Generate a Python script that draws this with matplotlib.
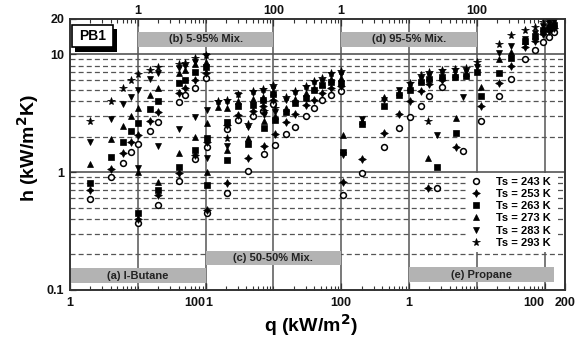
import numpy as np
import matplotlib
matplotlib.use("Agg")
import matplotlib.pyplot as plt
from matplotlib.patches import Rectangle
from matplotlib.ticker import FixedLocator, FixedFormatter, LogLocator, NullFormatter, NullLocator

plt.rcParams['font.family'] = ['Liberation Sans', 'DejaVu Sans']
plt.rcParams['font.weight'] = 'bold'

# saturation temperatures (K) and their symbols
ts = [243, 253, 263, 273, 283, 293]
markers = ['o', (4, 1, 0), 's', '^', 'v', '*']

# heat flux q (kW/m2); h (kW/m2K) one row per Ts, nan = no point
q_a = [2, 4, 6, 8, 10, 15, 20, 40, 50, 70, 100]
h_a = [
    [0.59, 0.90, 1.19, 1.47, 1.73, 2.24, 2.67, 3.94, 4.5, 5.15, 6.3],
    [0.70, 1.07, 1.44, 1.79, 2.06, 2.71, 3.24, 4.64, 5.2, 6.0, 6.9],
    [0.81, 1.33, 1.81, 2.23, 2.59, 3.40, 4.02, 5.65, 6.0, 7.1, 7.8],
    [1.17, 1.89, 2.45, 2.98, 3.51, 4.49, 5.18, 6.86, 7.3, 8.2, 8.6],
    [1.81, 2.80, 3.75, 4.35, 4.95, 6.1, 6.86, 7.6, 7.9, 8.6, 9.6],
    [2.72, 4.0, 5.18, 6.02, 6.73, 7.3, 7.8, 8.2, 8.4, 9.2, 9.8],
]

q_b = [1, 2, 4, 7, 10.5, 15, 21, 30, 50, 70, 100]
h_b = [
    [0.37, 0.53, 0.84, 1.28, 1.64, np.nan, 2.31, 2.76, 2.98, 3.29, 3.77],
    [0.40, 0.64, 0.98, 1.39, 1.80, np.nan, 2.50, 3.04, 3.29, 3.62, 4.08],
    [0.45, 0.71, 1.11, 1.54, 1.95, np.nan, 2.67, 3.65, 3.70, 4.08, 4.58],
    [1.0, 0.83, 1.46, 1.99, 2.59, 3.55, 3.49, 4.0, 4.16, 4.32, 4.76],
    [1.08, 1.66, 2.30, 2.91, 3.35, 3.84, 3.92, 4.49, 4.67, 4.86, 5.12],
    [np.nan, np.nan, np.nan, np.nan, np.nan, 4.0, 4.08, 4.58, 4.86, 5.05, 5.46],
]

q_c = [1.05, 2.1, 4.2, 7.3, 10.5, 15.5, 20.5, 30, 40, 52, 70, 100]
h_c = [
    [0.45, 0.66, 1.02, 1.41, 1.69, 2.09, 2.42, 3.0, 3.51, 4.08, 4.49, 4.89],
    [0.48, 0.81, 1.31, 1.66, 2.10, 2.67, 3.08, 3.70, 4.08, 4.64, 5.15, 5.35],
    [0.78, 1.26, 1.72, 2.35, 2.76, 3.24, 3.82, 4.24, 4.95, 5.46, 5.82, 5.71],
    [1.0, 1.54, 1.93, 2.71, 2.98, 3.47, 4.16, 4.67, 5.15, 5.57, 6.14, 6.26],
    [1.31, 1.66, 2.42, 3.04, 3.22, 4.08, 4.64, 5.15, 5.65, 5.94, 6.64, 6.73],
    [np.nan, 1.93, 2.55, 3.29, 3.49, 4.32, 4.86, 5.35, 5.9, 6.26, 6.9, 7.17],
]

q_d = [1.05, 2, 4.3, 7.2, 10.5, 15, 20, 31, 47, 69, 100]
h_d = [
    [0.64, 0.99, 1.63, 2.35, 2.91, 3.65, 4.41, 5.25, np.nan, np.nan, np.nan],
    [0.82, 1.28, 2.13, 3.08, 4.0, 4.89, 5.53, 6.02, np.nan, np.nan, np.nan],
    [1.48, 2.55, 3.62, 4.49, 4.95, 5.79, 6.14, 6.42, 6.42, 6.51, 7.08],
    [2.06, 2.71, 4.30, 4.76, 5.25, 6.02, 6.38, 6.64, 6.77, 6.9, np.nan],
    [1.39, 2.81, 4.08, 4.95, 5.46, 6.30, 6.64, 7.03, 7.17, 7.17, 7.8],
    [np.nan, np.nan, np.nan, np.nan, 5.68, 6.64, 7.03, 7.32, 7.53, 7.6, 8.55],
]

q_e = [1.9, 2.6, 5.0, 6.2, 11.5, 21, 32, 51, 71, 95, 117, 138]
h_e = [
    [np.nan, 0.73, np.nan, 1.51, 2.71, 4.45, 6.2, 9.12, 10.9, 12.6, 13.9, 15.4],
    [0.73, np.nan, 1.64, np.nan, 3.65, 5.73, 7.96, 11.5, 12.9, 14.8, 15.7, 16.6],
    [np.nan, 1.11, 2.13, np.nan, 4.45, 6.97, 9.25, 12.8, 14.3, 16.0, 16.9, 17.6],
    [1.31, np.nan, 2.85, np.nan, 5.28, 9.07, 10.4, 13.0, 14.2, 16.6, 17.6, 18.3],
    [np.nan, 2.08, np.nan, 4.30, np.nan, 10.2, 11.7, 13.5, 15.1, 17.3, 18.3, 19.0],
    [2.72, np.nan, np.nan, np.nan, np.nan, 12.2, 14.5, 16.0, 17.1, 18.7, 19.4, 19.8],
]

# title, data, decade shift on the shared axis, band span in decades, band h range
panels = [
    ("(a) I-Butane", q_a, h_a, 0, 2.0, (0.115, 0.153)),
    ("(b) 5-95% Mix.", q_b, h_b, 1, 2.0, (11.5, 15.4)),
    ("(c) 50-50% Mix.", q_c, h_c, 2, 2.0, (0.163, 0.214)),
    ("(d) 95-5% Mix.", q_d, h_d, 4, 2.0, (11.5, 15.4)),
    ("(e) Propane", q_e, h_e, 5, 2.14, (0.117, 0.156)),
]

fig = plt.figure(figsize=(5.85, 3.44), dpi=100)
ax = fig.add_axes([0.1197, 0.157, 0.8462, 0.789])
ax.set_xscale('log')
ax.set_yscale('log')
ax.set_xlim(1, 2e7)
ax.set_ylim(0.1, 20)

frame = '#333333'
grid = '#555555'

# horizontal reference lines
for v in list(np.arange(0.2, 1.0, 0.1)) + list(np.arange(2, 10, 1)):
    ax.axhline(v, color=grid, lw=0.9, ls=(0, (4, 2.5)), zorder=1)
for v in [1, 10]:
    ax.axhline(v, color=grid, lw=1.2, zorder=1)
for k in range(1, 8):
    ax.axvline(10.0 ** k, color=grid, lw=1.1, zorder=1)

msize = {'o': 4.2, 's': 3.7, '^': 4.5, 'v': 4.5, '*': 5.8}
handles = []
for name, q, h, shift, span, (y0, y1) in panels:
    x = np.array(q) * 10.0 ** shift
    for i, (m, t) in enumerate(zip(markers, ts)):
        if m == 'o':
            kw = dict(mfc='white', mec='black', mew=1.1)
        else:
            kw = dict(mfc='black', mec='black', mew=0.5)
        ln, = ax.plot(x, h[i], ls='none', marker=m, ms=msize.get(m, 5.6),
                      zorder=3, label=f"Ts = {t} K", **kw)
        if shift == 0:
            handles.append(ln)
    x0 = 10.0 ** shift
    x1 = 10.0 ** (shift + span)
    ax.add_patch(Rectangle((x0, y0), x1 - x0, y1 - y0, facecolor='#b3b3b3',
                           edgecolor='none', zorder=2))
    ax.text(np.sqrt(x0 * x1), np.sqrt(y0 * y1), name, ha='center', va='center',
            fontsize=8, color='#222222', zorder=2.5)

# bottom axis labels, one scale per lower panel
ax.xaxis.set_major_locator(FixedLocator([1, 100, 100, 1e4, 1e5, 1e7, 2e7]))
ax.xaxis.set_major_formatter(FixedFormatter(['1', '100', '1', '100', '1', '100', '200']))
ax.xaxis.set_minor_locator(LogLocator(base=10, subs=np.arange(1, 10), numticks=40))
ax.xaxis.set_minor_formatter(NullFormatter())
ax.yaxis.set_major_locator(FixedLocator([0.1, 1, 10, 20]))
ax.yaxis.set_major_formatter(FixedFormatter(['0.1', '1', '10', '20']))
ax.yaxis.set_minor_locator(NullLocator())
ax.tick_params(axis='both', which='both', direction='in', color=frame, labelsize=9,
               labelcolor='#111111')
ax.tick_params(axis='x', which='major', length=5, width=0.9, pad=5)
ax.tick_params(axis='x', which='minor', length=3, width=0.8)
ax.tick_params(axis='y', which='major', length=4, width=0.9, pad=4)
labels = ax.get_xticklabels()
labels[1].set_ha('right')
labels[2].set_ha('left')
labels[5].set_ha('right')

# top axis for the upper panels
top = ax.twiny()
top.set_xscale('log')
top.set_xlim(ax.get_xlim())
top.xaxis.set_major_locator(FixedLocator([10, 1000, 1e4, 1e6]))
top.xaxis.set_major_formatter(FixedFormatter(['1', '100', '1', '100']))
top.xaxis.set_minor_locator(LogLocator(base=10, subs=np.arange(1, 10), numticks=40))
top.xaxis.set_minor_formatter(NullFormatter())
top.tick_params(axis='x', which='both', direction='in', color=frame, labelsize=9,
                labelcolor='#111111')
top.tick_params(axis='x', which='major', length=5, width=0.9, pad=1)
top.tick_params(axis='x', which='minor', length=3, width=0.8)

for a in (ax, top):
    for s in a.spines.values():
        s.set_color(frame)
        s.set_linewidth(1.2)

# PB1 tag with drop shadow
ax.add_patch(Rectangle((0.011, 0.878), 0.083, 0.082, transform=ax.transAxes,
                       facecolor='black', edgecolor='none', zorder=4))
ax.add_patch(Rectangle((0.004, 0.895), 0.083, 0.081, transform=ax.transAxes,
                       facecolor='white', edgecolor='black', lw=1.2, zorder=4.5))
ax.text(0.0455, 0.9355, 'PB1', transform=ax.transAxes, ha='center', va='center',
        fontsize=10, zorder=5)

leg = ax.legend(handles=handles, loc='upper left', bbox_to_anchor=(0.802, 0.432),
                fontsize=8, frameon=True, facecolor='white', edgecolor='none',
                framealpha=1, fancybox=False, borderpad=0.35, borderaxespad=0,
                handlelength=1.0, handletextpad=1.3, labelspacing=0.2)
leg.set_zorder(4)

fig.text(0.532, 0.055, 'q (kW/m$^\\mathbf{2}$)', ha='center', va='center', fontsize=14)
fig.text(0.048, 0.57, 'h (kW/m$^\\mathbf{2}$K)', ha='center', va='center', fontsize=14,
         rotation=90)

fig.savefig('out.png', dpi=100, facecolor='white')
